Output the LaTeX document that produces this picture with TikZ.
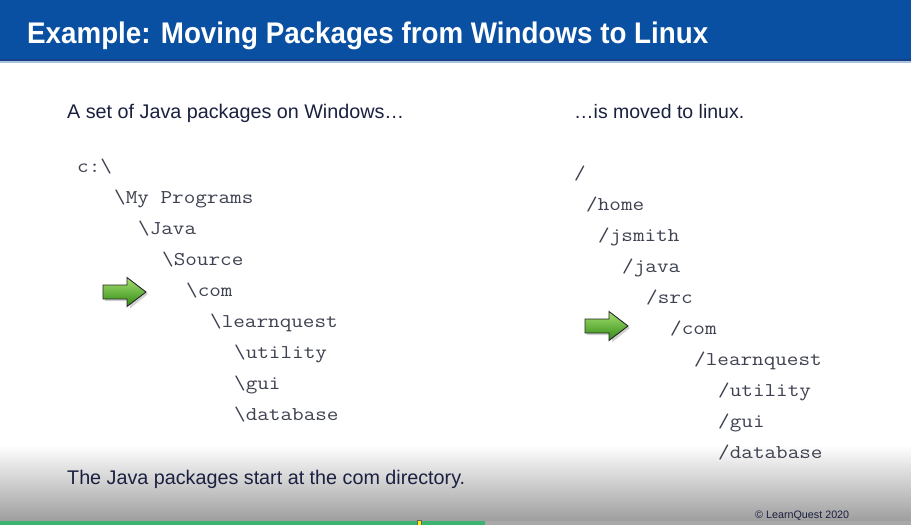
\documentclass[tikz,border=0pt]{standalone}
\usepackage{fontspec}
\setmainfont{Liberation Sans}
\newfontfamily\treefont{Latin Modern Mono}[FakeStretch=1.155]

\definecolor{barblue}{HTML}{0A50A2}
\definecolor{barline}{HTML}{1B3F86}
\definecolor{inkc}{HTML}{1A2040}
\definecolor{monoc}{HTML}{3E4150}
\definecolor{progress}{HTML}{3CB371}
\definecolor{arrowtop}{HTML}{A6E070}
\definecolor{arrowbot}{HTML}{2F8A14}

\tikzset{
  bodytext/.style={anchor=base west, inner sep=0pt, text=inkc},
  mono/.style={anchor=base west, inner sep=0pt, text=monoc,
    font=\treefont\fontsize{19.5}{22}\selectfont},
  greenarrow/.pic={
    % soft drop shadow
    \fill[black, opacity=0.18]
      (-19.5,-5) -- (5.5,-5) -- (5.5,-12.5) -- (23.5,2) -- (5.5,16.5) -- (5.5,9) -- (-19.5,9) -- cycle;
    % the arrow itself
    \draw[black!85, line width=0.9pt, line join=miter, top color=arrowtop, bottom color=arrowbot]
      (-21.5,-7) -- (2.5,-7) -- (2.5,-14.5) -- (21.5,0) -- (2.5,14.5) -- (2.5,7) -- (-21.5,7) -- cycle;
  }
}

\begin{document}
\begin{tikzpicture}[x=1pt,y=-1pt]
  % canvas
  \fill[white] (0,0) rectangle (911,525);
  \useasboundingbox (0,0) rectangle (911,525);

  % bottom fade
  \shade[top color=white, bottom color=black!38] (0,445) rectangle (911,521);

  % title bar
  \fill[barblue] (0,0) rectangle (911,60);
  \fill[barline] (0,59) rectangle (911,61);
  \fill[barblue!35] (0,61) rectangle (911,62.5);
  \node[anchor=base west, inner sep=0pt, text=white] (title) at (27,43)
    {\resizebox{681pt}{21.6pt}{\bfseries Example: Moving Packages from Windows to Linux}};

  % column headings
  \node[bodytext] (lefthead) at (67,118)
    {\resizebox{337pt}{!}{A set of Java packages on Windows\ldots}};
  \node[bodytext] (righthead) at (574,118)
    {\resizebox{170pt}{!}{\ldots is moved to linux.}};

  % Windows tree
  \node[mono] (w0) at (77,172) {c:\textbackslash};
  \node[mono] (w1) at (114,203) {\textbackslash My Programs};
  \node[mono] (w2) at (138,234) {\textbackslash Java};
  \node[mono] (w3) at (162,265) {\textbackslash Source};
  \node[mono] (w4) at (186,296) {\textbackslash com};
  \node[mono] (w5) at (210,327) {\textbackslash learnquest};
  \node[mono] (w6) at (234,358) {\textbackslash utility};
  \node[mono] (w7) at (234,389) {\textbackslash gui};
  \node[mono] (w8) at (234,420) {\textbackslash database};

  % Linux tree
  \node[mono] (l0) at (574,179) {/};
  \node[mono] (l1) at (586,210) {/home};
  \node[mono] (l2) at (598,241) {/jsmith};
  \node[mono] (l3) at (622,272) {/java};
  \node[mono] (l4) at (646,303) {/src};
  \node[mono] (l5) at (670,334) {/com};
  \node[mono] (l6) at (694,365) {/learnquest};
  \node[mono] (l7) at (718,396) {/utility};
  \node[mono] (l8) at (718,427) {/gui};
  \node[mono] (l9) at (718,458) {/database};

  % pointers at the package roots
  \pic at (124.5,292) {greenarrow};
  \pic at (606.5,326) {greenarrow};

  % footnote
  \node[bodytext] (note) at (67,484)
    {\resizebox{398pt}{!}{The Java packages start at the com directory.}};
  \node[anchor=base west, inner sep=0pt, text=inkc] (copy) at (755,518.5)
    {\resizebox{94pt}{!}{\textcopyright\ LearnQuest 2020}};

  % progress strip
  \fill[black!34] (0,521) rectangle (911,525);
  \fill[progress] (0,521) rectangle (485,525);
  \filldraw[fill=yellow, draw=black!60, line width=0.4pt] (417.5,520.5) rectangle (421.5,525);
\end{tikzpicture}
\end{document}
